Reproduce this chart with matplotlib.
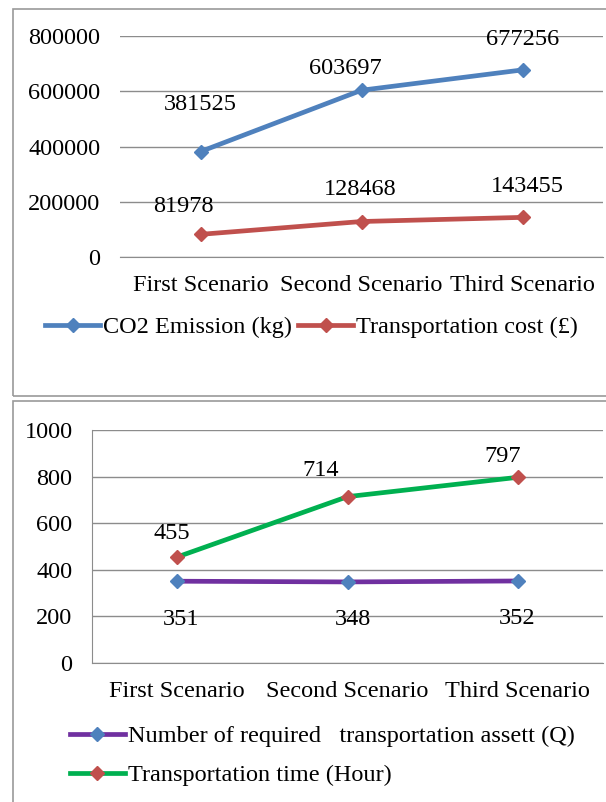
import matplotlib
matplotlib.use('Agg')
from matplotlib import pyplot as plt
from matplotlib.patches import Rectangle

scenarios = ['First Scenario', 'Second Scenario', 'Third Scenario']
co2 = [381525, 603697, 677256]
cost = [81978, 128468, 143455]
assets = [351, 348, 352]
hours = [455, 714, 797]

plt.rcParams['font.family'] = ['Liberation Serif', 'DejaVu Serif']
fs = 17.5
grid_c = '#8c8c8c'

fig = plt.figure(figsize=(6.06, 8.02), dpi=100)
W, H = 606, 802

def box(x0, y0, x1, y1):
    # pixel coords from the top-left corner
    return [x0 / W, 1 - y1 / H, (x1 - x0) / W, (y1 - y0) / H]

# panel frames
for y0, y1 in [(9, 396), (401, 810)]:
    fig.patches.append(Rectangle((13 / W, 1 - y1 / H), 1, (y1 - y0) / H,
                                 transform=fig.transFigure, fill=False,
                                 ec='#9a9a9a', lw=1.2))

x = [0.5, 1.5, 2.5]

# top chart
ax1 = fig.add_axes(box(120, 36, 603, 257))
ax1.plot(x, co2, color='#4F81BD', lw=3.4, marker='D', ms=7.5, label='CO2 Emission (kg)')
ax1.plot(x, cost, color='#C0504D', lw=3.4, marker='D', ms=7.5, label='Transportation cost (£)')
ax1.set_xlim(0, 3)
ax1.set_ylim(0, 800000)
ax1.set_yticks(range(0, 800001, 200000))
ax1.set_xticks(x)
ax1.set_xticklabels(scenarios)
for s in ['top', 'right', 'left']:
    ax1.spines[s].set_visible(False)
ax1.spines['bottom'].set_color(grid_c)
ax1.grid(axis='y', color=grid_c, lw=1)
ax1.set_axisbelow(True)
ax1.tick_params(length=0, labelsize=fs, pad=13)
ax1.tick_params(axis='y', pad=14)

offs1 = [(0, 47), (-16, 22), (0, 30)]
offs2 = [(-17, 28), (-1, 32), (5, 31)]
for i in range(3):
    ax1.annotate(str(co2[i]), (x[i], co2[i]), xytext=offs1[i], textcoords='offset pixels',
                 ha='center', va='center', fontsize=fs)
    ax1.annotate(str(cost[i]), (x[i], cost[i]), xytext=offs2[i], textcoords='offset pixels',
                 ha='center', va='center', fontsize=fs)
ax1.legend(loc='center left', bbox_to_anchor=(-0.155, -0.317), ncol=2, frameon=False,
           fontsize=fs, handlelength=2.26, handletextpad=0.12, columnspacing=0.25,
           borderaxespad=0, borderpad=0)

# bottom chart
ax2 = fig.add_axes(box(92, 430, 603, 663))
ax2.plot(x, assets, color='#7030A0', lw=3.4, marker='D', ms=7.5, mfc='#4F81BD', mec='#4F81BD',
         label='Number of required   transportation assett (Q)')
ax2.plot(x, hours, color='#00B050', lw=3.4, marker='D', ms=7.5, mfc='#C0504D', mec='#C0504D',
         label='Transportation time (Hour)')
ax2.set_xlim(0, 3)
ax2.set_ylim(0, 1000)
ax2.set_yticks(range(0, 1001, 200))
ax2.set_xticks(x)
ax2.set_xticklabels(scenarios)
for s in ['top', 'right']:
    ax2.spines[s].set_visible(False)
ax2.spines['bottom'].set_color(grid_c)
ax2.spines['left'].set_color(grid_c)
ax2.grid(axis='y', color=grid_c, lw=1)
ax2.set_axisbelow(True)
ax2.tick_params(length=0, labelsize=fs, pad=13)
ax2.tick_params(axis='y', pad=14)

offs3 = [(4, -38), (5, -38), (-1, -38)]
offs4 = [(-5, 23), (-27, 26), (-15, 21)]
for i in range(3):
    ax2.annotate(str(assets[i]), (x[i], assets[i]), xytext=offs3[i], textcoords='offset pixels',
                 ha='center', va='center', fontsize=fs)
    ax2.annotate(str(hours[i]), (x[i], hours[i]), xytext=offs4[i], textcoords='offset pixels',
                 ha='center', va='center', fontsize=fs)
ax2.legend(loc='center left', bbox_to_anchor=(-0.043, -0.399), ncol=1, frameon=False,
           fontsize=fs, handlelength=2.26, handletextpad=0.12, labelspacing=0.7,
           borderaxespad=0, borderpad=0)

fig.savefig('out.png', dpi=100)
